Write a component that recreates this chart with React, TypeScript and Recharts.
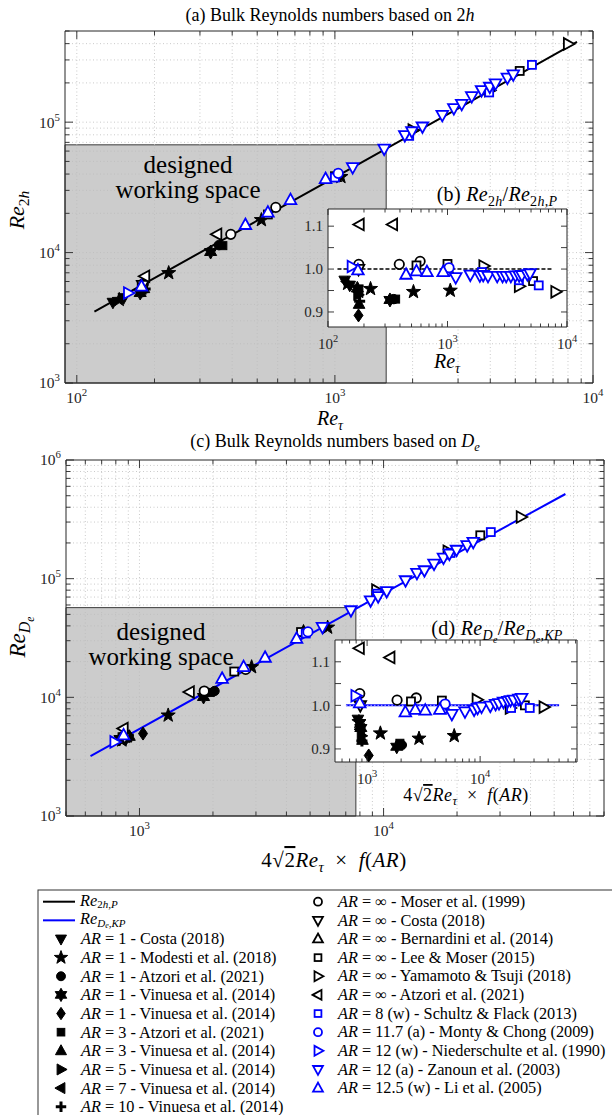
import React from 'react';
import { ScatterChart, Scatter, XAxis, YAxis, ReferenceArea, ReferenceLine } from 'recharts';

const FONT = '"Liberation Serif", "Times New Roman", serif';
const AXIS = '#262626';
const BLACK = '#000000';
const BLUE = '#0000ff';
const GREY = '#cccccc';
const GRID = '#bdbdbd';

// columns: Re_tau, Re_2h, Re_2h/Re_2h,P, 4*sqrt(2)*Re_tau*f(AR), Re_De, Re_De/Re_De,KP
type Row = [number, number, number, number, number, number];

const COSTA_AR1: Row[] = [[138, 4150, 0.974, 830, 4400, 0.968], [152, 4500, 0.962, 860, 4550, 0.958]];
const MODESTI_AR1: Row[] = [[146, 4350, 0.966, 847, 4350, 0.962], [227, 6980, 0.954, 1311, 7050, 0.936], [519, 17800, 0.947, 2880, 18000, 0.924], [1055, 38100, 0.95, 5900, 38800, 0.93]];
const ATZORI_AR1: Row[] = [[355, 11400, 0.93, 2030, 11300, 0.909]];
const VINUESA_AR1_HEX: Row[] = [[176, 4900, 0.955, 880, 4500, 0.948], [330, 10100, 0.928, 1830, 10070, 0.905]];
const VINUESA_AR1_DIA: Row[] = [[180, 5100, 0.892, 1034, 4950, 0.885]];
const ATZORI_AR3: Row[] = [[368, 11300, 0.93, 1950, 11000, 0.913]];
const VINUESA_AR3: Row[] = [[182, 5300, 0.918, 910, 4700, 0.92]];
const VINUESA_AR5: Row[] = [[178, 5400, 0.94, 890, 4750, 0.93]];
const VINUESA_AR7: Row[] = [[181, 5450, 0.947, 875, 4650, 0.945]];
const VINUESA_AR10: Row[] = [[184, 5250, 0.925, 900, 4800, 0.918]];
const MOSER_INF: Row[] = [[181, 5760, 1.011, 861, 4680, 1.027], [395, 13800, 1.011, 1842, 11300, 1.012], [590, 22200, 1.018, 2723, 17200, 1.017]];
const COSTA_INF: Row[] = [[180, 5650, 1.0, 870, 4600, 1.0]];
const BERNARDINI_INF: Row[] = [[1000, 38000, 1.0, 4700, 35500, 1.0]];
const LEE_MOSER_INF: Row[] = [[550, 19600, 1.0085, 2445, 16500, 1.009], [1000, 38500, 1.012, 4590, 35500, 1.011], [5200, 247000, 0.972, 24900, 232000, 1.0]];
const YAMAMOTO_INF: Row[] = [[2000, 87000, 1.007, 9330, 80000, 1.013], [3960, 175000, 0.96, 18300, 170000, 0.994], [8000, 398000, 0.947, 36500, 331000, 0.996]];
const ATZORI_INF: Row[] = [[184, 6590, 1.104, 861, 5450, 1.131], [350, 13800, 1.104, 1607, 11100, 1.11]];
const SCHULTZ_AR8: Row[] = [[1000, 37600, 0.995, 4800, 34500, 0.992], [1940, 78500, 0.993, 9400, 74700, 0.996], [3960, 169000, 0.974, 18800, 164600, 0.994], [5800, 275000, 0.962, 27500, 247000, 0.994]];
const MONTY_AR11: Row[] = [[1030, 40500, 1.003, 4900, 35600, 1.003]];
const NIEDER_AR12: Row[] = [[158, 4900, 1.006, 790, 4210, 1.022]];
const ZANOUN_AR12: Row[] = [
  [1172, 45100, 0.981, 5620, 39100, 0.98], [1552, 62600, 0.987, 7350, 54100, 0.986],
  [1866, 79500, 0.985, 8850, 65600, 0.99], [1988, 85000, 0.986, 9500, 71000, 0.994],
  [2183, 92500, 0.984, 10300, 78500, 0.997], [2606, 113500, 0.984, 12300, 96800, 0.999],
  [2890, 128000, 0.984, 13700, 111600, 1.003], [3100, 138000, 0.984, 14700, 117500, 1.005],
  [3390, 158000, 0.984, 16100, 133800, 1.008], [3700, 176000, 0.985, 17600, 150300, 1.01],
  [3980, 186500, 0.985, 18600, 162000, 1.012], [4190, 198000, 0.986, 19900, 175000, 1.013],
  [4660, 219000, 0.988, 22000, 191000, 1.015], [4910, 232000, 0.99, 23300, 203800, 1.017],
];
const LI_AR125: Row[] = [[178, 5500, 0.997, 861, 4790, 1.005], [450, 16300, 0.987, 2180, 14360, 0.984], [550, 20300, 0.995, 2670, 18000, 0.99], [673, 25300, 0.993, 3270, 21600, 0.988], [920, 36700, 0.993, 4400, 31200, 0.99]];

const LINE_2HP: [number, number][] = [[117, 3530], [1000, 37800], [8670, 412000]];
const LINE_DEKP: [number, number][] = [[630, 3200], [10000, 75000], [55600, 517000]];
const REF_B: [number, number][] = [[120, 1], [7500, 1]];
const REF_D: [number, number][] = [[650, 1], [50000, 1]];

const WORK_A_X = [90, 1580];
const WORK_A_Y = [1000, 67000];
const WORK_C_X = [500, 7700];
const WORK_C_Y = [1000, 57000];

const X_TICKS_A = [100, 200, 300, 400, 500, 600, 700, 800, 900, 1000, 2000, 3000, 4000, 5000, 6000, 7000, 8000, 9000, 10000];
const Y_TICKS_A = [1000, 2000, 3000, 4000, 5000, 6000, 7000, 8000, 9000, 10000, 20000, 30000, 40000, 50000, 60000, 70000, 80000, 90000, 100000, 200000, 300000, 400000, 500000];
const X_TICKS_C = [500, 600, 700, 800, 900, 1000, 2000, 3000, 4000, 5000, 6000, 7000, 8000, 9000, 10000, 20000, 30000, 40000, 50000, 60000, 70000, 80000];
const Y_TICKS_C = [1000, 2000, 3000, 4000, 5000, 6000, 7000, 8000, 9000, 10000, 20000, 30000, 40000, 50000, 60000, 70000, 80000, 90000, 100000, 200000, 300000, 400000, 500000, 600000, 700000, 800000, 900000, 1000000];
const X_TICKS_B = [100, 200, 300, 400, 500, 600, 700, 800, 900, 1000, 2000, 3000, 4000, 5000, 6000, 7000, 8000, 9000, 10000];
const X_TICKS_D = [600, 700, 800, 900, 1000, 2000, 3000, 4000, 5000, 6000, 7000, 8000, 9000, 10000, 20000, 30000, 40000, 50000, 60000, 70000];
const Y_TICKS_R = [0.9, 0.95, 1.0, 1.05, 1.1];
const DECADES = [100, 1000, 10000, 100000, 1000000];
const RATIO_LABELS = [0.9, 1.0, 1.1];

type Kind = 'tdown' | 'tup' | 'tright' | 'tleft' | 'circle' | 'square' | 'diamond' | 'star' | 'hex' | 'plus';
interface S { rows: Row[]; kind: Kind; color: string; filled: boolean; }
const SERIES: S[] = [
  { rows: COSTA_AR1, kind: 'tdown', color: BLACK, filled: true },
  { rows: MODESTI_AR1, kind: 'star', color: BLACK, filled: true },
  { rows: ATZORI_AR1, kind: 'circle', color: BLACK, filled: true },
  { rows: VINUESA_AR1_HEX, kind: 'hex', color: BLACK, filled: true },
  { rows: VINUESA_AR1_DIA, kind: 'diamond', color: BLACK, filled: true },
  { rows: ATZORI_AR3, kind: 'square', color: BLACK, filled: true },
  { rows: VINUESA_AR3, kind: 'tup', color: BLACK, filled: true },
  { rows: VINUESA_AR5, kind: 'tright', color: BLACK, filled: true },
  { rows: VINUESA_AR7, kind: 'tleft', color: BLACK, filled: true },
  { rows: VINUESA_AR10, kind: 'plus', color: BLACK, filled: true },
  { rows: MOSER_INF, kind: 'circle', color: BLACK, filled: false },
  { rows: COSTA_INF, kind: 'tdown', color: BLACK, filled: false },
  { rows: BERNARDINI_INF, kind: 'tup', color: BLACK, filled: false },
  { rows: LEE_MOSER_INF, kind: 'square', color: BLACK, filled: false },
  { rows: YAMAMOTO_INF, kind: 'tright', color: BLACK, filled: false },
  { rows: ATZORI_INF, kind: 'tleft', color: BLACK, filled: false },
  { rows: SCHULTZ_AR8, kind: 'square', color: BLUE, filled: false },
  { rows: MONTY_AR11, kind: 'circle', color: BLUE, filled: false },
  { rows: NIEDER_AR12, kind: 'tright', color: BLUE, filled: false },
  { rows: ZANOUN_AR12, kind: 'tdown', color: BLUE, filled: false },
  { rows: LI_AR125, kind: 'tup', color: BLUE, filled: false },
];

function starPts(n: number, R: number, r: number) {
  const out: number[][] = [];
  for (let i = 0; i < 2 * n; i++) {
    const a = -Math.PI / 2 + (i * Math.PI) / n;
    const rad = i % 2 === 0 ? R : r;
    out.push([rad * Math.cos(a), rad * Math.sin(a)]);
  }
  return out;
}

function Marker({ kind, cx, cy, color, filled, s = 1 }: { kind: Kind; cx: number; cy: number; color: string; filled: boolean; s?: number }) {
  if (cx == null || cy == null || isNaN(cx) || isNaN(cy)) return <g />;
  const fill = filled ? color : '#ffffff';
  const common = { fill, stroke: color, strokeWidth: filled ? 1 : 1.8 };
  const P = (pts: number[][]) => pts.map((p) => `${cx + p[0] * s},${cy + p[1] * s}`).join(' ');
  switch (kind) {
    case 'circle': return <circle cx={cx} cy={cy} r={4.7 * s} {...common} />;
    case 'square': return <rect x={cx - 4 * s} y={cy - 4 * s} width={8 * s} height={8 * s} {...common} />;
    case 'tup': return <polygon points={P([[0, -6.4], [5.8, 4.1], [-5.8, 4.1]])} {...common} />;
    case 'tdown': return <polygon points={P([[0, 6.4], [5.8, -4.1], [-5.8, -4.1]])} {...common} />;
    case 'tright': return <polygon points={P([[6.4, 0], [-4.1, -5.8], [-4.1, 5.8]])} {...common} />;
    case 'tleft': return <polygon points={P([[-6.4, 0], [4.1, -5.8], [4.1, 5.8]])} {...common} />;
    case 'diamond': return <polygon points={P([[0, -6.5], [4.5, 0], [0, 6.5], [-4.5, 0]])} {...common} />;
    case 'star': return <polygon points={P(starPts(5, 7.4, 3))} {...common} />;
    case 'hex': return <polygon points={P(starPts(6, 7, 4))} {...common} />;
    case 'plus':
      return <path d={`M${cx - 5.5 * s},${cy}H${cx + 5.5 * s}M${cx},${cy - 5.5 * s}V${cy + 5.5 * s}`} stroke={color} strokeWidth={3} fill="none" />;
    default: return <g />;
  }
}

type Box = { left: number; right: number; top: number; bottom: number };
const isIn = (v: number, arr: number[]) => arr.some((a) => Math.abs(a - v) < 1e-9 * Math.max(1, Math.abs(a)));

const logLab = (fs: number) => (v: number) => (
  <>10<tspan dy={-fs * 0.45} fontSize={fs * 0.7}>{Math.round(Math.log10(v))}</tspan></>
);
const linLab = (v: number) => <>{v.toFixed(1)}</>;

function xTick(box: Box, majors: number[], labels: number[], lab: (v: number) => React.ReactNode, mj: number, mn: number, dy: number, fs: number) {
  return (p: any) => {
    const x = p.x;
    const v = p.payload.value;
    const len = isIn(v, majors) ? mj : mn;
    return (
      <g>
        <line x1={x} x2={x} y1={box.bottom} y2={box.bottom - len} stroke={AXIS} strokeWidth={0.9} />
        <line x1={x} x2={x} y1={box.top} y2={box.top + len} stroke={AXIS} strokeWidth={0.9} />
        {isIn(v, labels) && (
          <text x={x} y={box.bottom + dy} textAnchor="middle" fontSize={fs} fontFamily={FONT} fill={AXIS}>{lab(v)}</text>
        )}
      </g>
    );
  };
}

function yTick(box: Box, majors: number[], labels: number[], lab: (v: number) => React.ReactNode, mj: number, mn: number, dx: number, fs: number) {
  return (p: any) => {
    const y = p.y;
    const v = p.payload.value;
    const len = isIn(v, majors) ? mj : mn;
    return (
      <g>
        <line x1={box.left} x2={box.left + len} y1={y} y2={y} stroke={AXIS} strokeWidth={0.9} />
        <line x1={box.right} x2={box.right - len} y1={y} y2={y} stroke={AXIS} strokeWidth={0.9} />
        {isIn(v, labels) && (
          <text x={box.left - dx} y={y + fs * 0.35} textAnchor="end" fontSize={fs} fontFamily={FONT} fill={AXIS}>{lab(v)}</text>
        )}
      </g>
    );
  };
}

type Pt = { x: number; y: number };
const proj = (rows: Row[], xi: number, yi: number): Pt[] => rows.map((r) => ({ x: r[xi], y: r[yi] }));
const pairs = (a: [number, number][]): Pt[] => a.map(([x, y]) => ({ x, y }));

function seriesEls(xi: number, yi: number, tag: string) {
  return SERIES.map((s, i) => (
    <Scatter key={tag + i} data={proj(s.rows, xi, yi)} isAnimationActive={false}
      shape={(p: any) => <Marker kind={s.kind} cx={p.cx} cy={p.cy} color={s.color} filled={s.filled} />} />
  ));
}

function gridEls(xs: number[], ys: number[], xd: number[], yd: number[], tag: string) {
  return [
    ...xs.filter((v) => v > xd[0] && v < xd[1]).map((v) => (
      <ReferenceLine key={tag + 'x' + v} x={v} stroke={GRID} strokeDasharray="1 2.5" strokeWidth={0.8} />
    )),
    ...ys.filter((v) => v > yd[0] && v < yd[1]).map((v) => (
      <ReferenceLine key={tag + 'y' + v} y={v} stroke={GRID} strokeDasharray="1 2.5" strokeWidth={0.8} />
    )),
  ];
}

function lineEl(pts: [number, number][], stroke: string, width: number, key: string, dash?: string) {
  return (
    <Scatter key={key} data={pairs(pts)} isAnimationActive={false}
      line={{ stroke, strokeWidth: width, strokeDasharray: dash }} shape={() => <g />} />
  );
}

function Panel(props: {
  box: Box; xd: number[]; yd: number[]; yScale: 'log' | 'linear';
  xTicks: number[]; yTicks: number[]; xt: any; yt: any; children: React.ReactNode;
}) {
  const { box, xd, yd, yScale } = props;
  return (
    <div style={{ position: 'absolute', left: 0, top: 0, width: 612, height: 1115 }}>
      <ScatterChart width={612} height={1115}
        margin={{ left: box.left - 1, right: 612 - box.right - 1, top: box.top - 1, bottom: 1115 - box.bottom - 1 }}>
        <XAxis xAxisId={0} dataKey="x" type="number" scale="log" domain={xd} allowDataOverflow ticks={props.xTicks}
          interval={0} tick={props.xt} tickLine={false} tickSize={0} tickMargin={0} height={1} axisLine={{ stroke: AXIS }} />
        <XAxis xAxisId="top" orientation="top" type="number" scale="log" domain={xd} allowDataOverflow
          tick={false} tickLine={false} height={1} axisLine={{ stroke: AXIS }} />
        <YAxis yAxisId={0} dataKey="y" type="number" scale={yScale} domain={yd} allowDataOverflow ticks={props.yTicks}
          interval={0} tick={props.yt} tickLine={false} tickSize={0} tickMargin={0} width={1} axisLine={{ stroke: AXIS }} />
        <YAxis yAxisId="right" orientation="right" type="number" scale={yScale} domain={yd} allowDataOverflow
          tick={false} tickLine={false} width={1} axisLine={{ stroke: AXIS }} />
        {props.children}
      </ScatterChart>
    </div>
  );
}

const BOX_A: Box = { left: 65, right: 593, top: 31, bottom: 383 };
const BOX_C: Box = { left: 66, right: 604, top: 460, bottom: 816 };
const BOX_B: Box = { left: 328, right: 567, top: 209, bottom: 327 };
const BOX_D: Box = { left: 335, right: 577, top: 640, bottom: 762 };
const XD_A = [90, 10000], YD_A = [1000, 500000];
const XD_C = [500, 80000], YD_C = [1000, 1000000];
const XD_B = [100, 10000], YD_B = [0.865, 1.14];
const XD_D = [520, 72000], YD_D = [0.87, 1.15];

const LEG_FS = 16.3;
const LEG1: { kind?: Kind; line?: string; color: string; filled: boolean; label: React.ReactNode }[] = [
  { line: BLACK, color: BLACK, filled: true, label: <><tspan fontStyle="italic">Re</tspan><tspan dy={2.5} fontSize={11}>2</tspan><tspan fontSize={11} fontStyle="italic">h,P</tspan></> },
  { line: BLUE, color: BLUE, filled: true, label: <><tspan fontStyle="italic">Re</tspan><tspan dy={2.5} fontSize={11} fontStyle="italic">D</tspan><tspan dy={1.2} fontSize={8} fontStyle="italic">e</tspan><tspan dy={-1.2} fontSize={11} fontStyle="italic">,KP</tspan></> },
  { kind: 'tdown', color: BLACK, filled: true, label: '1 - Costa (2018)' },
  { kind: 'star', color: BLACK, filled: true, label: '1 - Modesti et al. (2018)' },
  { kind: 'circle', color: BLACK, filled: true, label: '1 - Atzori et al. (2021)' },
  { kind: 'hex', color: BLACK, filled: true, label: '1 - Vinuesa et al. (2014)' },
  { kind: 'diamond', color: BLACK, filled: true, label: '1 - Vinuesa et al. (2014)' },
  { kind: 'square', color: BLACK, filled: true, label: '3 - Atzori et al. (2021)' },
  { kind: 'tup', color: BLACK, filled: true, label: '3 - Vinuesa et al. (2014)' },
  { kind: 'tright', color: BLACK, filled: true, label: '5 - Vinuesa et al. (2014)' },
  { kind: 'tleft', color: BLACK, filled: true, label: '7 - Vinuesa et al. (2014)' },
  { kind: 'plus', color: BLACK, filled: true, label: '10 - Vinuesa et al. (2014)' },
];
const LEG2: { kind: Kind; color: string; filled: boolean; label: string }[] = [
  { kind: 'circle', color: BLACK, filled: false, label: '∞ - Moser et al. (1999)' },
  { kind: 'tdown', color: BLACK, filled: false, label: '∞ - Costa (2018)' },
  { kind: 'tup', color: BLACK, filled: false, label: '∞ - Bernardini et al. (2014)' },
  { kind: 'square', color: BLACK, filled: false, label: '∞ - Lee & Moser (2015)' },
  { kind: 'tright', color: BLACK, filled: false, label: '∞ - Yamamoto & Tsuji (2018)' },
  { kind: 'tleft', color: BLACK, filled: false, label: '∞ - Atzori et al. (2021)' },
  { kind: 'square', color: BLUE, filled: false, label: '8 (w) - Schultz & Flack (2013)' },
  { kind: 'circle', color: BLUE, filled: false, label: '11.7 (a) - Monty & Chong (2009)' },
  { kind: 'tright', color: BLUE, filled: false, label: '12 (w) - Niederschulte et al. (1990)' },
  { kind: 'tdown', color: BLUE, filled: false, label: '12 (a) - Zanoun et al. (2003)' },
  { kind: 'tup', color: BLUE, filled: false, label: '12.5 (w) - Li et al. (2005)' },
];

// 4√2 Re_τ × f(AR)
function farLabel(fs: number) {
  const d = fs * 0.22;
  return (
    <>
      <tspan>4√</tspan><tspan textDecoration="overline">2</tspan><tspan fontStyle="italic">Re</tspan>
      <tspan dy={d} fontSize={fs * 0.7} fontStyle="italic">τ</tspan>
      <tspan dy={-d}>{'\u2002×\u2002'}</tspan><tspan fontStyle="italic">f</tspan><tspan>(</tspan><tspan fontStyle="italic">AR</tspan><tspan>)</tspan>
    </>
  );
}

export default function App() {
  const rowY = (i: number) => 901.7 + 18.64 * i;
  return (
    <div style={{ position: 'absolute', left: 0, top: 0, width: 612, height: 1115, background: '#fff', fontFamily: FONT, overflow: 'hidden' }}>
      <Panel box={BOX_A} xd={XD_A} yd={YD_A} yScale="log" xTicks={X_TICKS_A} yTicks={Y_TICKS_A}
        xt={xTick(BOX_A, DECADES, DECADES, logLab(15.5), 8, 4.5, 20, 15.5)}
        yt={yTick(BOX_A, DECADES, DECADES, logLab(15.5), 8, 4.5, 5, 15.5)}>
        <ReferenceArea x1={WORK_A_X[0]} x2={WORK_A_X[1]} y1={WORK_A_Y[0]} y2={WORK_A_Y[1]} fill={GREY} fillOpacity={1} stroke="#3a3a3a" strokeWidth={1} />
        {gridEls(X_TICKS_A, Y_TICKS_A, XD_A, YD_A, 'a')}
        {lineEl(LINE_2HP, BLACK, 2, 'la')}
        {seriesEls(0, 1, 'a')}
      </Panel>
      <Panel box={BOX_C} xd={XD_C} yd={YD_C} yScale="log" xTicks={X_TICKS_C} yTicks={Y_TICKS_C}
        xt={xTick(BOX_C, DECADES, DECADES, logLab(15.5), 8, 4.5, 20, 15.5)}
        yt={yTick(BOX_C, DECADES, DECADES, logLab(15.5), 8, 4.5, 5, 15.5)}>
        <ReferenceArea x1={WORK_C_X[0]} x2={WORK_C_X[1]} y1={WORK_C_Y[0]} y2={WORK_C_Y[1]} fill={GREY} fillOpacity={1} stroke="#3a3a3a" strokeWidth={1} />
        {gridEls(X_TICKS_C, Y_TICKS_C, XD_C, YD_C, 'c')}
        {lineEl(LINE_DEKP, BLUE, 2, 'lc')}
        {seriesEls(3, 4, 'c')}
      </Panel>
      <Panel box={BOX_B} xd={XD_B} yd={YD_B} yScale="linear" xTicks={X_TICKS_B} yTicks={Y_TICKS_R}
        xt={xTick(BOX_B, DECADES, DECADES, logLab(15), 6, 3.5, 22, 15)}
        yt={yTick(BOX_B, RATIO_LABELS, RATIO_LABELS, linLab, 6, 6, 5, 15)}>
        <ReferenceArea x1={XD_B[0]} x2={XD_B[1]} y1={YD_B[0]} y2={YD_B[1]} fill="#ffffff" fillOpacity={1} stroke="none" />
        {lineEl(REF_B, BLACK, 1.6, 'lb', '4 2')}
        {seriesEls(0, 2, 'b')}
      </Panel>
      <Panel box={BOX_D} xd={XD_D} yd={YD_D} yScale="linear" xTicks={X_TICKS_D} yTicks={Y_TICKS_R}
        xt={xTick(BOX_D, DECADES, [1000, 10000], logLab(15), 6, 3.5, 22, 15)}
        yt={yTick(BOX_D, RATIO_LABELS, RATIO_LABELS, linLab, 6, 6, 5, 15)}>
        <ReferenceArea x1={XD_D[0]} x2={XD_D[1]} y1={YD_D[0]} y2={YD_D[1]} fill="#ffffff" fillOpacity={1} stroke="none" />
        {lineEl(REF_D, BLUE, 2, 'ld')}
        {lineEl(REF_D, '#ffffff', 0.7, 'ld2', '1.5 2')}
        {seriesEls(3, 5, 'd')}
      </Panel>
      <svg width={612} height={1115} style={{ position: 'absolute', left: 0, top: 0, pointerEvents: 'none' }} fontFamily={FONT}>
        <text x={330} y={21} textAnchor="middle" fontSize={18}>(a) Bulk Reynolds numbers based on 2<tspan fontStyle="italic">h</tspan></text>
        <text x={335} y={447} textAnchor="middle" fontSize={18}>(c) Bulk Reynolds numbers based on <tspan fontStyle="italic">D</tspan><tspan dy={4} fontSize={12.5} fontStyle="italic">e</tspan></text>
        <text transform="translate(24,210) rotate(-90)" textAnchor="middle" fontSize={22}><tspan fontStyle="italic">Re</tspan><tspan dy={5} fontSize={15.5}>2</tspan><tspan fontSize={15.5} fontStyle="italic">h</tspan></text>
        <text transform="translate(25,637) rotate(-90)" textAnchor="middle" fontSize={23}><tspan fontStyle="italic">Re</tspan><tspan dy={5} fontSize={16} fontStyle="italic">D</tspan><tspan dy={3.5} fontSize={11.5} fontStyle="italic">e</tspan></text>
        <text x={330} y={425} textAnchor="middle" fontSize={20}><tspan fontStyle="italic">Re</tspan><tspan dy={4.5} fontSize={14} fontStyle="italic">τ</tspan></text>
        <text x={334} y={867} textAnchor="middle" fontSize={21} letterSpacing={0.5}>{farLabel(21)}</text>
        <text x={188} y={173} textAnchor="middle" fontSize={25}>designed</text>
        <text x={188} y={198} textAnchor="middle" fontSize={25}>working space</text>
        <text x={161} y={640} textAnchor="middle" fontSize={25}>designed</text>
        <text x={161} y={665} textAnchor="middle" fontSize={25}>working space</text>
        <text x={497} y={201} textAnchor="middle" fontSize={20} letterSpacing={0.3}><tspan>(b) </tspan><tspan fontStyle="italic">Re</tspan><tspan dy={4.5} fontSize={14}>2</tspan><tspan fontSize={14} fontStyle="italic">h</tspan><tspan dy={-4.5}>/</tspan><tspan fontStyle="italic">Re</tspan><tspan dy={4.5} fontSize={14}>2</tspan><tspan fontSize={14} fontStyle="italic">h,P</tspan></text>
        <text x={447} y={368} textAnchor="middle" fontSize={20}><tspan fontStyle="italic">Re</tspan><tspan dy={4.5} fontSize={14} fontStyle="italic">τ</tspan></text>
        <text x={497} y={635} textAnchor="middle" fontSize={20} letterSpacing={0.3}><tspan>(d) </tspan><tspan fontStyle="italic">Re</tspan><tspan dy={4.5} fontSize={14} fontStyle="italic">D</tspan><tspan dy={3} fontSize={10} fontStyle="italic">e</tspan><tspan dy={-7.5}>/</tspan><tspan fontStyle="italic">Re</tspan><tspan dy={4.5} fontSize={14} fontStyle="italic">D</tspan><tspan dy={3} fontSize={10} fontStyle="italic">e</tspan><tspan dy={-3} fontSize={14} fontStyle="italic">,KP</tspan></text>
        <text x={466} y={801} textAnchor="middle" fontSize={18} letterSpacing={0.5}>{farLabel(18)}</text>

        <rect x={38} y={890} width={640} height={300} fill="none" stroke="#333" strokeWidth={1} />
        {LEG1.map((e, i) => (
          <g key={'l1' + i}>
            {e.line ? (
              <line x1={43} x2={75} y1={rowY(i)} y2={rowY(i)} stroke={e.line} strokeWidth={2} />
            ) : (
              <Marker kind={e.kind as Kind} cx={61} cy={rowY(i)} color={e.color} filled={e.filled} s={0.95} />
            )}
            <text x={e.line ? 80 : 81} y={rowY(i) + (e.line ? 3.8 : 5.4)} fontSize={LEG_FS}>
              {e.line ? e.label : <><tspan fontStyle="italic">AR</tspan><tspan>{' = ' + e.label}</tspan></>}
            </text>
          </g>
        ))}
        {LEG2.map((e, i) => (
          <g key={'l2' + i}>
            <Marker kind={e.kind} cx={318} cy={rowY(i)} color={e.color} filled={e.filled} s={0.85} />
            <text x={338} y={rowY(i) + 5.2} fontSize={LEG_FS}><tspan fontStyle="italic">AR</tspan><tspan>{' = ' + e.label}</tspan></text>
          </g>
        ))}
      </svg>
    </div>
  );
}
